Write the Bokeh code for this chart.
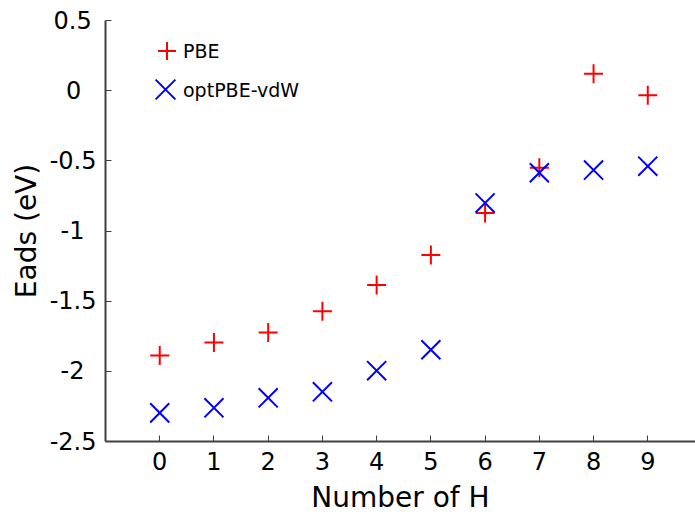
from bokeh.plotting import figure
from bokeh.models import Range1d, FixedTicker, Legend, LegendItem, ColumnDataSource
from bokeh.embed import file_html
from bokeh.resources import INLINE

# ---- data ----
n_h = [0, 1, 2, 3, 4, 5, 6, 7, 8, 9]
pbe = [-1.888, -1.794, -1.723, -1.571, -1.384, -1.171, -0.872, -0.550, 0.121, -0.033]
optpbe_vdw = [-2.296, -2.260, -2.189, -2.146, -1.995, -1.846, -0.800, -0.585, -0.566, -0.538]
series_names = ["PBE", "optPBE-vdW"]
x_ticks = [0, 1, 2, 3, 4, 5, 6, 7, 8, 9]
y_ticks = [-2.5, -2.0, -1.5, -1.0, -0.5, 0.0, 0.5]
y_tick_labels = ["-2.5", "-2", "-1.5", "-1", "-0.5", "0", "0.5"]

FONT = "DejaVu Sans"
AXC = "#404040"
# trailing spaces so the right-aligned tick labels appear centred in their column
PAD = {"-2": "\u2002", "-1": "\u2002", "0": "\u2007", "0.5": "\u2009"}

p = figure(width=695, height=516, output_backend="svg", toolbar_location=None,
           x_range=Range1d(-1, 9.88), y_range=Range1d(-2.5, 0.5),
           min_border_left=105, min_border_right=0, min_border_top=20, min_border_bottom=74)
p.outline_line_color = None
p.xgrid.visible = False
p.ygrid.visible = False
p.background_fill_color = "white"
p.border_fill_color = "white"

r1 = p.scatter(n_h, pbe, marker="cross", size=19, line_color="#ff0000", line_width=2)
r2 = p.scatter(n_h, optpbe_vdw, marker="x", size=27, line_color="#0000ff", line_width=2)
# invisible renderer only used to carry the legend texts
r_txt = p.scatter(x="x", y="y", source=ColumnDataSource(dict(x=[], y=[])),
                  marker="circle", size=1, line_alpha=0, fill_alpha=0)

for ax in (p.xaxis[0], p.yaxis[0]):
    ax.axis_line_width = 2
    ax.axis_line_color = AXC
    ax.major_tick_in = 6
    ax.major_tick_out = 0
    ax.major_tick_line_color = AXC
    ax.major_tick_line_width = 1
    ax.minor_tick_line_color = None
    ax.major_label_text_font = FONT
    ax.major_label_text_font_size = "24px"
    ax.major_label_text_color = "black"
    ax.axis_label_text_font = FONT
    ax.axis_label_text_font_size = "28px"
    ax.axis_label_text_font_style = "normal"
    ax.axis_label_text_color = "black"

p.xaxis.ticker = FixedTicker(ticks=x_ticks)
p.yaxis.ticker = FixedTicker(ticks=y_ticks)
p.yaxis.major_label_overrides = {v: s + PAD.get(s, "") for v, s in zip(y_ticks, y_tick_labels)}
p.xaxis.axis_label = "Number of H"
p.yaxis.axis_label = "Eads (eV)"
p.xaxis.major_label_standoff = 10
p.xaxis.axis_label_standoff = 8
p.yaxis.major_label_standoff = 9
p.yaxis.axis_label_standoff = 4

common = dict(padding=0, margin=0, spacing=0, border_line_color=None, background_fill_alpha=0,
              label_text_font=FONT, label_text_font_size="19px", label_text_color="black")
# legend keys (markers) and legend texts
leg_g1 = Legend(items=[LegendItem(label="", renderers=[r1])],
                location=(39, 368), glyph_width=45, glyph_height=45, label_standoff=0, **common)
leg_g2 = Legend(items=[LegendItem(label="", renderers=[r2])],
                location=(25, 317), glyph_width=70, glyph_height=70, label_standoff=0, **common)
leg_t = Legend(items=[LegendItem(label=series_names[0], renderers=[r_txt]),
                      LegendItem(label=series_names[1], renderers=[r_txt])],
               location=(68, 332), glyph_width=10, glyph_height=39, label_standoff=0, **common)
p.add_layout(leg_g1)
p.add_layout(leg_g2)
p.add_layout(leg_t)

open("out.html", "w").write(file_html(p, INLINE))
